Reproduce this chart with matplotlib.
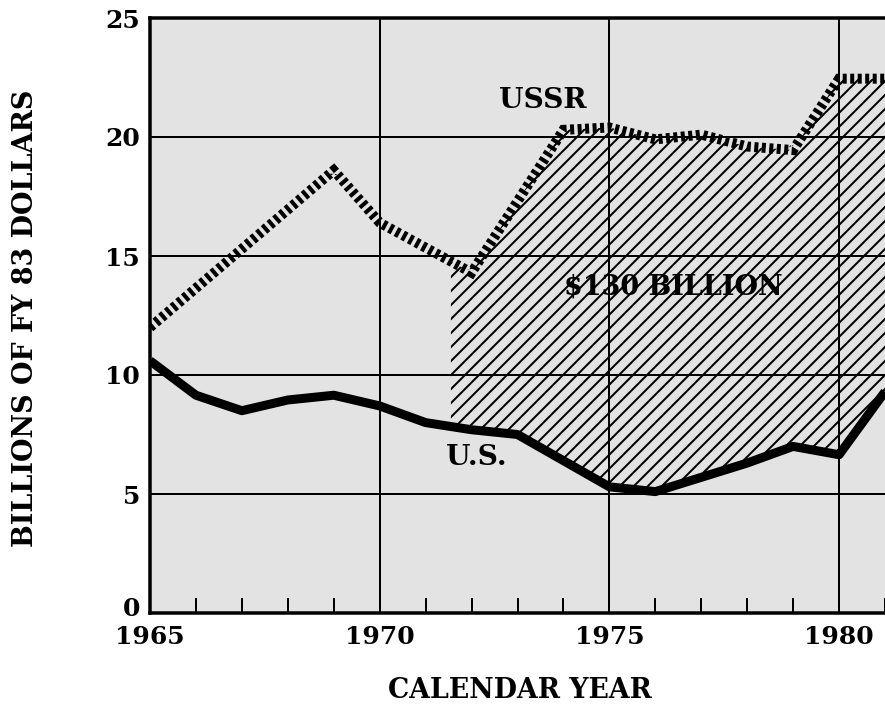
import numpy as np
import matplotlib
matplotlib.use("Agg")
import matplotlib.pyplot as plt
import matplotlib.transforms as mtransforms

# ---- data ----
years = [1965, 1966, 1967, 1968, 1969, 1970, 1971, 1972, 1973, 1974,
         1975, 1976, 1977, 1978, 1979, 1980, 1981]
us = [10.6, 9.15, 8.5, 8.95, 9.15, 8.7, 8.0, 7.7, 7.5, 6.4,
      5.3, 5.1, 5.7, 6.3, 7.0, 6.65, 9.3]
ussr_years = [1965, 1969, 1970, 1972, 1974, 1975, 1976, 1977, 1978, 1979, 1980, 1981]
ussr = [12.0, 18.6, 16.4, 14.3, 20.3, 20.4, 19.9, 20.1, 19.6, 19.45, 22.45, 22.45]
gap_start = 1971.55
y_ticks = [0, 5, 10, 15, 20, 25]
x_ticks = [1965, 1970, 1975, 1980]
ylabel = "BILLIONS OF FY 83 DOLLARS"
xlabel = "CALENDAR YEAR"
gap_label = "$130 BILLION"

DPI = 84
PX = 72.0 / DPI  # points per pixel

plt.rcParams['font.family'] = ['DejaVu Serif']
plt.rcParams['font.weight'] = 'bold'
plt.rcParams['hatch.linewidth'] = 2.0 * PX
plt.rcParams['hatch.color'] = 'black'

fig = plt.figure(figsize=(885 / DPI, 706 / DPI), dpi=DPI)
fig.patch.set_facecolor('white')
ax = fig.add_axes([150 / 885, 93 / 706, (885 - 150) / 885, 595 / 706])
ax.set_facecolor('#e3e3e3')
ax.set_xlim(1965, 1980.91)
ax.set_ylim(0, 25)

# gridlines
for v in y_ticks[1:-1]:
    ax.axhline(v, color='black', lw=2.0 * PX, zorder=1)
for v in x_ticks[1:]:
    ax.axvline(v, color='black', lw=2.0 * PX, zorder=1)

# hatched gap region
xs = np.linspace(gap_start, 1981, 400)
us_i = np.interp(xs, years, us)
ussr_i = np.interp(xs, ussr_years, ussr)
ax.fill_between(xs, us_i, ussr_i, facecolor='none', edgecolor='black',
                hatch='//', linewidth=0, zorder=2)

# lines
ax.plot(years, us, color='black', lw=9 * PX, solid_joinstyle='round',
        solid_capstyle='butt', zorder=4)
ax.plot(ussr_years, ussr, color='black', lw=10 * PX, dashes=(0.4, 0.35),
        dash_capstyle='butt', dash_joinstyle='miter', zorder=4)

# annotations
ax.text(1973.55, 21.55, "USSR", ha='center', va='center',
        fontsize=28 * PX, fontweight='bold', zorder=5)
ax.text(1976.4, 13.7, gap_label, ha='center', va='center',
        fontsize=27 * PX, fontweight='bold', zorder=5)
ax.text(1972.1, 6.55, "U.S.", ha='center', va='center',
        fontsize=28 * PX, fontweight='bold', zorder=5)

# spines
for s in ['left', 'bottom', 'top']:
    ax.spines[s].set_linewidth(3.5 * PX)
    ax.spines[s].set_color('black')
    ax.spines[s].set_zorder(6)
ax.spines['right'].set_visible(False)

# ticks
ax.set_yticks(y_ticks)
ax.set_yticklabels([str(v) for v in y_ticks])
ax.set_xticks(x_ticks)
ax.set_xticklabels([str(v) for v in x_ticks])
ax.set_xticks(years, minor=True)
ax.tick_params(axis='y', which='major', length=0, pad=10 * PX,
               labelsize=25 * PX)
ax.tick_params(axis='x', which='major', length=0, pad=12 * PX,
               labelsize=25 * PX)
ax.tick_params(axis='x', which='minor', direction='in', length=15 * PX,
               width=2 * PX, color='black')
for lab in ax.get_xticklabels() + ax.get_yticklabels():
    lab.set_fontweight('bold')
# lift the "0" label slightly, as in the reference
zero_lab = ax.get_yticklabels()[0]
zero_lab.set_transform(zero_lab.get_transform() +
                       mtransforms.ScaledTranslation(0, 6 / DPI, fig.dpi_scale_trans))

fig.text(26 / 885, 1 - 318 / 706, ylabel, rotation=90, ha='center', va='center',
         fontsize=27 * PX, fontweight='bold')
fig.text(520 / 885, 1 - 691 / 706, xlabel, ha='center', va='center',
         fontsize=26.8 * PX, fontweight='bold')

fig.savefig('out.png', dpi=DPI)
